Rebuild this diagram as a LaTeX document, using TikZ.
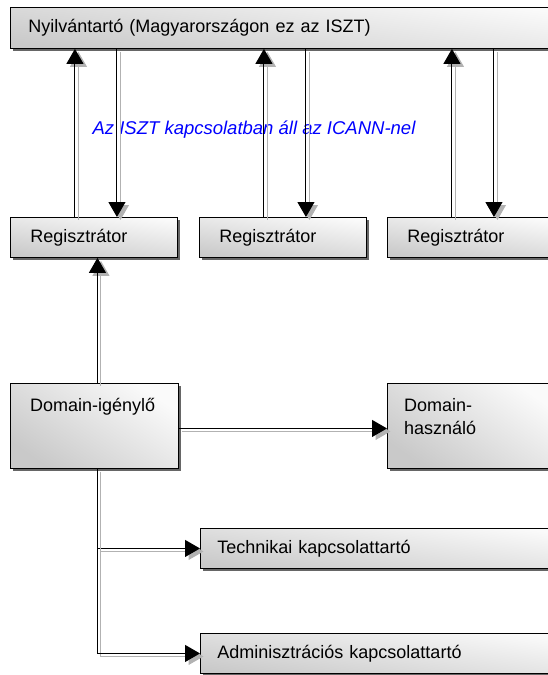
\documentclass[tikz,border=0pt]{standalone}
\usepackage{fontspec}
\setmainfont{Liberation Sans}
\usetikzlibrary{arrows.meta,shadows}

\tikzset{
  box/.style={draw,line width=0.9pt,anchor=north west,top color=gray!4,bottom color=gray!42,shading angle=-8,
              drop shadow={shadow xshift=3pt,shadow yshift=-3pt,fill=black!60,opacity=1},
              align=left,inner ysep=0pt},
  flow/.style={line width=1pt,-{Triangle[width=17pt,length=15pt]},
               preaction={draw=gray!60,line width=1pt,transform canvas={xshift=3.5pt,yshift=-3pt}}},
  inlabel/.style={anchor=north west,inner sep=0pt,align=left,yshift=-15pt}
}

\begin{document}
\begin{tikzpicture}[x=1pt,y=-1pt,font=\fontsize{18}{23}\selectfont]
\useasboundingbox (0,0) rectangle (548,675);
\clip (0,0) rectangle (548,675);

    \node[box,minimum width=560pt,minimum height=41pt,text width=524pt,inner xsep=18pt](nyt) at (10,7)
        {Nyilvántartó (Magyarországon ez az ISZT)};

    \foreach \i/\x in {1/10,2/199,3/387}
        \node[box,minimum width=167pt,minimum height=40pt,text width=127pt,inner xsep=20pt](reg\i) at (\x,217)
            {Regisztrátor};

    \node[box,shading angle=-35,minimum width=168pt,minimum height=85pt,
          label={[inlabel,xshift=20pt]north west:Domain-igénylő}](igeny) at (10,383) {};
    \node[box,shading angle=-35,minimum width=170pt,minimum height=85pt,
          label={[inlabel,xshift=17pt]north west:Domain-\\használó}](hasznalo) at (387,383) {};

    \node[box,minimum width=360pt,minimum height=40pt,text width=326pt,inner xsep=17pt](tech) at (200,528)
        {Technikai kapcsolattartó};
    \node[box,minimum width=360pt,minimum height=40pt,text width=326pt,inner xsep=17pt](admin) at (200,633)
        {Adminisztrációs kapcsolattartó};

    \node[text=blue,font=\fontsize{18.5}{22}\selectfont\itshape](icann) at (254,130)
        {Az ISZT kapcsolatban áll az ICANN-nel};

    \foreach \i in {1,2,3}{
        \draw[flow] ([xshift=-19pt]reg\i.north) -- ([xshift=-19pt]reg\i.north |- nyt.south);
        \draw[flow] ([xshift=23pt]reg\i.north |- nyt.south) -- ([xshift=23pt]reg\i.north);
    }

    \coordinate (split) at ([xshift=3pt]igeny.south);
    \draw[flow] ([xshift=3pt]igeny.north) -- ([xshift=3pt]igeny.north |- reg1.south);
    \draw[flow] ([yshift=-2.5pt]igeny.east) -- ([yshift=-2.5pt]igeny.east -| hasznalo.west);
    \draw[flow] (split) |- (tech.west);
    \draw[flow] (split) |- (admin.west);

\end{tikzpicture}
\end{document}
